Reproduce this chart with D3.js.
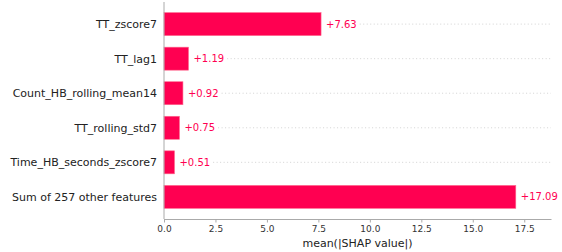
<!DOCTYPE html>
<html>
<head>
<meta charset="utf-8">
<script src="https://cdn.jsdelivr.net/npm/d3@7"></script>
<style>
  body { margin: 0; background: #fff; }
  svg { font-family: "DejaVu Sans", sans-serif; }
</style>
</head>
<body>
<svg id="chart"></svg>
<script>
const features = ['TT_zscore7', 'TT_lag1', 'Count_HB_rolling_mean14', 'TT_rolling_std7', 'Time_HB_seconds_zscore7', 'Sum of 257 other features'];
const values = [7.63, 1.19, 0.92, 0.75, 0.51, 17.09];
const ticks = [0, 2.5, 5, 7.5, 10, 12.5, 15, 17.5];

const width = 562, height = 252;
const margin = { top: 2, right: 11, bottom: 33, left: 164 };
const red = '#ff0051';

const svg = d3.select('#chart').attr('width', width).attr('height', height);

const x = d3.scaleLinear().domain([0, 18.8]).range([margin.left, width - margin.right]);
const y = d3.scaleLinear().domain([-0.64, features.length - 0.36]).range([margin.top, height - margin.bottom]);

const barH = 23;
svg.selectAll('.bar')
  .data(values)
  .enter()
  .append('rect')
  .attr('x', x(0))
  .attr('y', (d, i) => y(i) - barH / 2)
  .attr('width', d => x(d) - x(0))
  .attr('height', barH)
  .attr('fill', red)
  .attr('stroke', '#ff6a8f')
  .attr('stroke-width', 0.6);

const vals = svg.selectAll('.val')
  .data(values)
  .enter()
  .append('text')
  .attr('x', d => x(d) + 5)
  .attr('y', (d, i) => y(i))
  .attr('dy', '0.35em')
  .attr('fill', red)
  .style('font-size', '10px')
  .text(d => '+' + d.toFixed(2));

// dotted guide lines, starting after each value label
vals.each(function(d, i) {
  const end = x(d) + 5 + this.getComputedTextLength() + 3;
  if (end < width - margin.right) {
    svg.insert('line', 'rect')
      .attr('x1', end)
      .attr('x2', width - margin.right)
      .attr('y1', y(i))
      .attr('y2', y(i))
      .attr('stroke', '#c8c8c8')
      .attr('stroke-width', 0.8)
      .attr('stroke-dasharray', '1,2.5');
  }
});

svg.selectAll('.lab')
  .data(features)
  .enter()
  .append('text')
  .attr('x', margin.left - 7)
  .attr('y', (d, i) => y(i))
  .attr('dy', '0.35em')
  .attr('text-anchor', 'end')
  .attr('fill', '#222')
  .style('font-size', '11px')
  .text(d => d);

// bottom axis
const xAxis = d3.axisBottom(x).tickValues(ticks).tickFormat(d3.format('.1f')).tickSize(3.5).tickSizeOuter(0);
const gx = svg.append('g')
  .attr('transform', `translate(0, ${height - margin.bottom})`)
  .call(xAxis);
gx.select('.domain').attr('stroke', '#aaa');
gx.selectAll('.tick line').attr('stroke', '#aaa');
gx.selectAll('.tick text').attr('fill', '#333').style('font-size', '9px').style('font-family', '"DejaVu Sans", sans-serif').attr('y', 7).attr('dy', '0.71em');

// left spine
svg.append('line')
  .attr('x1', margin.left).attr('x2', margin.left)
  .attr('y1', margin.top).attr('y2', height - margin.bottom)
  .attr('stroke', '#aaa');

svg.append('text')
  .attr('x', (margin.left + width - margin.right) / 2)
  .attr('y', 243)
  .attr('dy', '0.35em')
  .attr('text-anchor', 'middle')
  .attr('fill', '#222')
  .style('font-size', '11px')
  .text('mean(|SHAP value|)');
</script>
</body>
</html>
